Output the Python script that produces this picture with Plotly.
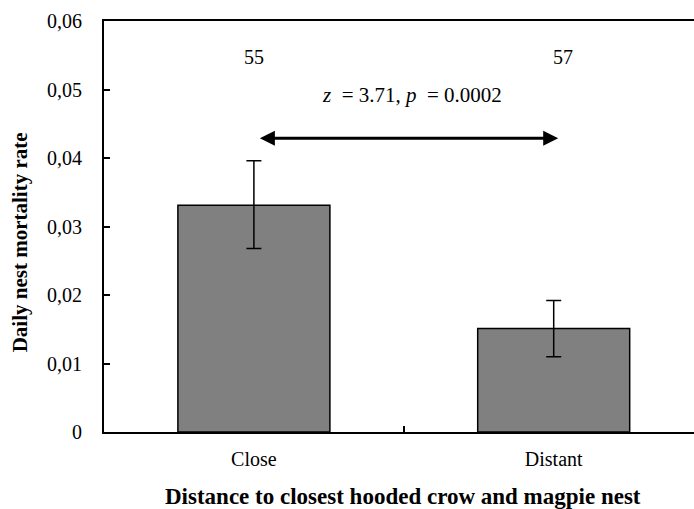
import plotly.graph_objects as go

categories = ["Close", "Distant"]
mortality = [0.0331, 0.0151]
err_plus = [0.0065, 0.0041]
err_minus = [0.0063, 0.0041]
sample_sizes = ["55", "57"]
y_ticks = [0, 0.01, 0.02, 0.03, 0.04, 0.05, 0.06]
y_ticklabels = ["0", "0,01", "0,02", "0,03", "0,04", "0,05", "0,06"]
stat_text = "<i>z</i>&nbsp; = 3.71, <i>p</i>&nbsp; = 0.0002"
x_title = "<b>Distance to closest hooded crow and magpie nest</b>"
y_title = "<b>Daily nest mortality rate</b>"

FONT = "Liberation Serif, Times New Roman, serif"

fig = go.Figure()
fig.add_trace(go.Bar(
    x=categories, y=mortality, width=0.507,
    marker=dict(color="#808080", line=dict(color="black", width=1.5)),
    error_y=dict(type="data", array=err_plus, arrayminus=err_minus,
                 color="black", thickness=1.5, width=7.5, symmetric=False),
    showlegend=False,
))

# sample size labels
for i, (c, n) in enumerate(zip(categories, sample_sizes)):
    fig.add_annotation(x=i + (0.03 if i == 1 else 0), y=0.0547, xref="x", yref="y",
                       text=n, showarrow=False,
                       font=dict(family=FONT, size=20, color="black"))

fig.add_annotation(x=0.528, y=0.0492, xref="x", yref="y", text=stat_text,
                   showarrow=False, font=dict(family=FONT, size=21, color="black"))

# double-headed arrow
fig.add_annotation(x=1.015, y=0.0429, ax=0.015, ay=0.0429,
                   xref="x", yref="y", axref="x", ayref="y",
                   text="", showarrow=True, arrowhead=2, startarrowhead=2,
                   arrowside="end+start", arrowwidth=3, arrowsize=1,
                   startarrowsize=1, arrowcolor="black")

# axis titles
fig.add_annotation(x=0.507, y=-0.158, xref="paper", yref="paper", text=x_title,
                   showarrow=False, xanchor="center", yanchor="middle",
                   font=dict(family=FONT, size=23, color="black"))
fig.add_annotation(x=-0.142, y=0.462, xref="paper", yref="paper", text=y_title,
                   showarrow=False, textangle=-90, xanchor="center", yanchor="middle",
                   font=dict(family=FONT, size=21, color="black"))

fig.update_layout(
    width=694, height=509,
    margin=dict(l=104, r=0, t=21, b=77),
    plot_bgcolor="white", paper_bgcolor="white",
    font=dict(family=FONT, size=20, color="black"),
    xaxis=dict(
        type="category", range=[-0.5, 1.468],
        showline=True, linecolor="black", linewidth=2, mirror=True,
        ticks="inside", tickson="boundaries", ticklen=6, tickwidth=1.5, tickcolor="black",
        showgrid=False, zeroline=False,
        ticklabelstandoff=8,
        tickfont=dict(family=FONT, size=20),
    ),
    yaxis=dict(
        range=[0, 0.06],
        tickvals=y_ticks, ticktext=y_ticklabels,
        showline=True, linecolor="black", linewidth=2,
        ticks="inside", ticklen=6, tickwidth=1.5, tickcolor="black",
        showgrid=False, zeroline=False,
        ticklabelstandoff=16,
        tickfont=dict(family=FONT, size=20),
    ),
)

fig.write_html("out.html", config={"displayModeBar": False},
               post_script="document.body.style.margin='0';document.body.style.overflow='hidden';")
